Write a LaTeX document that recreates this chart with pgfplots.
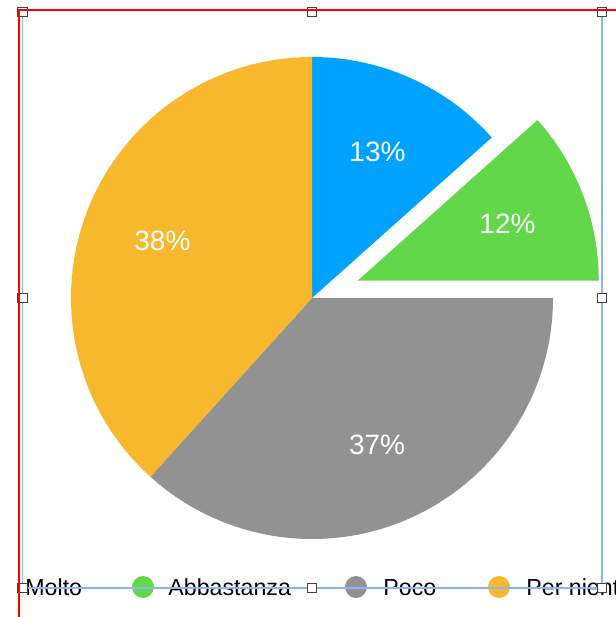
\documentclass[border=0pt]{standalone}
\usepackage{pgfplots}
\pgfplotsset{compat=1.18}
\usepackage{pgfplotstable}
\usepackage{fontspec}
\setmainfont{Liberation Sans}
\definecolor{cMolto}{HTML}{00A2FF}
\definecolor{cAbba}{HTML}{63D74A}
\definecolor{cPoco}{HTML}{929292}
\definecolor{cPer}{HTML}{F7B82E}
\definecolor{selblue}{HTML}{8DB3FF}
\definecolor{handle}{HTML}{404040}
\tikzset{pielabel/.style={text=white,inner sep=0pt,font=\fontsize{14}{16}\selectfont},
         leglabel/.style={text=black,inner sep=0pt,anchor=base west,font=\fontsize{11.6}{14}\selectfont},
         hdl/.style={draw=handle,fill=white,line width=0.5pt,minimum size=4.6pt,inner sep=0pt}}

\pgfplotstableread[col sep=comma]{
label,value,color,explode
Molto,13.4,cMolto,0
Abbastanza,11.6,cAbba,49
Poco,36.7,cPoco,0
Per niente,38.3,cPer,0
}\piedata

\begin{document}
\begin{tikzpicture}
\begin{axis}[x=0.5pt,y=0.5pt,xmin=0,xmax=616,ymin=0,ymax=617,hide axis,clip=false,anchor=origin,at={(0,0)}]
\coordinate (SW) at (axis cs:0,0);
\coordinate (NE) at (axis cs:616,617);
\def\cx{312}\def\cy{319}\def\R{241}
\def\cum{0}
\pgfplotstablegetrowsof{\piedata}
\pgfmathtruncatemacro{\N}{\pgfplotsretval-1}
\pgfplotsforeachungrouped \i in {0,...,\N}{%
  \pgfplotstablegetelem{\i}{value}\of{\piedata}\let\val\pgfplotsretval
  \pgfplotstablegetelem{\i}{color}\of{\piedata}\let\col\pgfplotsretval
  \pgfplotstablegetelem{\i}{explode}\of{\piedata}\let\ex\pgfplotsretval
  \pgfmathsetmacro{\aS}{90-3.6*\cum}%
  \pgfmathsetmacro{\aE}{90-3.6*(\cum+\val)}%
  \pgfmathsetmacro{\aM}{(\aS+\aE)/2}%
  \pgfmathsetmacro{\ox}{\cx+\ex*cos(\aM)}%
  \pgfmathsetmacro{\oy}{\cy+\ex*sin(\aM)}%
  \pgfmathsetmacro{\px}{\ox+\R*cos(\aS)}%
  \pgfmathsetmacro{\py}{\oy+\R*sin(\aS)}%
  \pgfmathsetmacro{\lx}{\ox+0.665*\R*cos(\aM)}%
  \pgfmathsetmacro{\ly}{\oy+0.665*\R*sin(\aM)}%
  \pgfmathsetmacro{\rad}{0.5*\R}%
  \pgfmathtruncatemacro{\pct}{round(\val)}%
  \edef\temp{\noexpand\fill[\col] (axis cs:\ox,\oy) -- (axis cs:\px,\py) arc[start angle=\aS,end angle=\aE,radius=\rad pt] -- cycle;
    \noexpand\node[pielabel] at (axis cs:\lx,\ly) {\pct\noexpand\%};}%
  \temp
  \pgfmathsetmacro{\cum}{\cum+\val}%
}
% legend
\node[leglabel] at (axis cs:25,21) {Molto};
\fill[cAbba] (axis cs:143,30) circle[radius=5.5pt];
\node[leglabel] at (axis cs:168,21) {Abbastanza};
\fill[cPoco] (axis cs:356,30) circle[radius=5.5pt];
\node[leglabel] at (axis cs:383,21) {Poco};
\fill[cPer] (axis cs:499,30) circle[radius=5.5pt];
\node[leglabel] at (axis cs:526,21) {Per niente};
% selection frame
\draw[selblue,line width=0.7pt] (axis cs:22.5,605) -- (axis cs:22.5,29) -- (axis cs:602,29) -- (axis cs:602,605);
\node[hdl] at (axis cs:22.5,605) {};
\node[hdl] at (axis cs:312,605) {};
\node[hdl] at (axis cs:602,605) {};
\node[hdl] at (axis cs:22.5,319) {};
\node[hdl] at (axis cs:602,319) {};
\node[hdl] at (axis cs:22.5,29) {};
\node[hdl] at (axis cs:312,29) {};
\node[hdl] at (axis cs:602,29) {};
\draw[red,line width=1pt] (axis cs:19.3,0) -- (axis cs:19.3,607) -- (axis cs:616,607);
\end{axis}
\pgfresetboundingbox
\path (SW) rectangle (NE);
\end{tikzpicture}
\end{document}
